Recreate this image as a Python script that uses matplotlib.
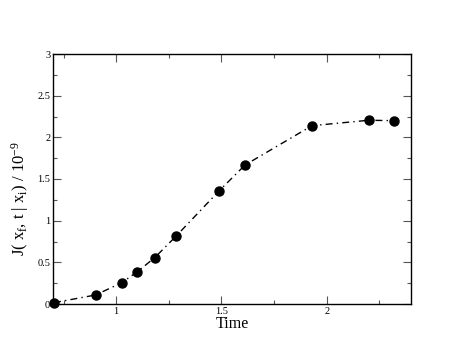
import matplotlib
matplotlib.use("Agg")
import matplotlib.pyplot as plt
from matplotlib.ticker import MultipleLocator

time = [0.705, 0.902, 1.027, 1.101, 1.183, 1.285, 1.487, 1.612, 1.93, 2.20, 2.32]
flux = [0.016, 0.108, 0.256, 0.388, 0.556, 0.816, 1.353, 1.668, 2.14, 2.205, 2.20]
x_ticks = [1, 1.5, 2]
x_tick_labels = ["1", "1.5", "2"]
y_ticks = [0, 0.5, 1, 1.5, 2, 2.5, 3]
y_tick_labels = ["0", "0.5", "1", "1.5", "2", "2.5", "3"]

plt.rcParams['font.family'] = ['Liberation Serif', 'DejaVu Serif']
plt.rcParams['mathtext.fontset'] = 'custom'
plt.rcParams['mathtext.rm'] = 'Liberation Serif'
plt.rcParams['mathtext.it'] = 'Liberation Serif'

fig = plt.figure(figsize=(4.63, 3.58), dpi=100)
ax = fig.add_axes([53/463, 54/358, (411-53)/463, (304-54)/358])

ax.plot(time, flux, color='black', linestyle='-.', linewidth=1.0,
        dashes=(5, 3, 1, 3),
        marker='o', markersize=6.5, markerfacecolor='black', markeredgecolor='black',
        clip_on=False, zorder=3)

ax.set_xlim(0.7, 2.4)
ax.set_ylim(0, 3)
ax.set_xticks(x_ticks)
ax.set_xticklabels(x_tick_labels)
ax.set_yticks(y_ticks)
ax.set_yticklabels(y_tick_labels)
ax.xaxis.set_minor_locator(MultipleLocator(0.25))
ax.yaxis.set_minor_locator(MultipleLocator(0.25))
ax.tick_params(which='both', direction='in', top=True, right=True, labelsize=7.5, pad=2)
ax.tick_params(which='major', length=6, width=0.8, color='#555555')
ax.tick_params(which='minor', length=3, width=0.8, color='#555555')
for s in ax.spines.values():
    s.set_linewidth(1.0)

ax.set_xlabel('Time', fontsize=11.5, labelpad=0)
ax.set_ylabel(r'J( x$_\mathrm{f}$, t | x$_\mathrm{i}$) / 10$^{\mathrm{-9}}$', fontsize=12)
ax.yaxis.set_label_coords(-0.062, 0.42)

fig.savefig('out.png', dpi=100)
